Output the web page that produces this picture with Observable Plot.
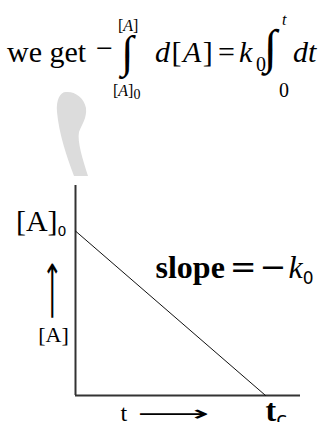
<!DOCTYPE html>
<html>
<head>
<meta charset="utf-8">
<script src="https://cdn.jsdelivr.net/npm/d3@7"></script>
<script src="https://cdn.jsdelivr.net/npm/@observablehq/plot@0.6"></script>
<style>
  html, body { margin: 0; padding: 0; background: #fff; width: 324px; height: 422px; overflow: hidden; }
  #eq { display: block; }
  #chart svg { display: block; }
</style>
</head>
<body>
<!-- Integrated rate law heading, with a faint decorative swoosh beneath it -->
<svg id="eq" width="324" height="180" font-family="'Liberation Serif', 'Times New Roman', serif" fill="#000">
  <path d="M66,92 C74,91 84,97 86,108 C87,118 82,124 79,132 C77,142 83,160 88,176 L74,176 C66,155 59,133 57,112 C56,100 60,92 66,92 Z" fill="#dcdcdc"/>
  <text x="7" y="62" font-size="30">we get</text>
  <text x="96" y="58" font-size="30">−</text>
  <text x="121" y="67" font-size="45">∫</text>
  <text x="118" y="31" font-size="16">[<tspan font-style="italic">A</tspan>]</text>
  <text x="113" y="96" font-size="16">[<tspan font-style="italic">A</tspan>]<tspan font-size="14" dy="3">0</tspan></text>
  <text x="155" y="62" font-size="30" letter-spacing="1.5"><tspan font-style="italic">d</tspan>[<tspan font-style="italic">A</tspan>]</text>
  <text x="218" y="62" font-size="30">=</text>
  <text x="239" y="62" font-size="30" font-style="italic">k</text>
  <text x="256" y="71" font-size="20">0</text>
  <text x="264" y="63" font-size="48">∫</text>
  <text x="282" y="25" font-size="16" font-style="italic">t</text>
  <text x="279" y="97" font-size="20">0</text>
  <text x="293" y="62" font-size="30" font-style="italic">dt</text>
</svg>
<div id="chart"></div>
<script>
// Zero-order kinetics: [A] falls on a straight line from [A]0 at t = 0 to zero at t = tc
const time = [0, 1];            // t = 0 and t = tc
const concentration = [1, 0];   // [A]0 and 0
const timeDomain = [0, 1.184];  // the t axis runs a little past tc
const concDomain = [0, 1.277];  // the [A] axis runs a little above [A]0
const concTickLabel = "[A]0";
const timeTickLabel = "tc";
const slopeLabel = "slope=−k0";
const concAxisLabel = "[A]";
const timeAxisLabel = "t";
const arrow = "⟶";

const decay = time.map((t, i) => ({t, a: concentration[i]}));
const start = decay.filter((d) => d.a === 1);
const end = decay.filter((d) => d.a === 0);

const serif = "'Liberation Serif', 'Times New Roman', serif";

const chart = Plot.plot({
  width: 324,
  height: 242,
  marginLeft: 75,
  marginRight: 24,
  marginTop: 5,
  marginBottom: 27,
  x: {domain: timeDomain, axis: null},
  y: {domain: concDomain, axis: null},
  style: {background: "transparent", overflow: "visible"},
  marks: [
    Plot.ruleX([0], {stroke: "#333", strokeWidth: 2}),
    Plot.ruleY([0], {stroke: "#333", strokeWidth: 2}),
    Plot.line(decay, {x: "t", y: "a", stroke: "#111", strokeWidth: 1}),
    // value labels at the two ends of the line
    Plot.text(start, {x: "t", y: "a", text: () => concTickLabel,
      textAnchor: "end", lineAnchor: "middle", dx: -9, dy: -10, fontFamily: serif, fontSize: 30}),
    Plot.text(end, {x: "t", y: "a", text: () => timeTickLabel,
      textAnchor: "start", lineAnchor: "bottom", dx: 0, dy: 25, fontFamily: serif, fontSize: 32}),
    // slope annotation
    Plot.text([slopeLabel], {frameAnchor: "top-left",
      textAnchor: "start", lineAnchor: "bottom", dx: 80, dy: 92, fontFamily: serif, fontSize: 32}),
    // axis titles with their arrows
    Plot.text([arrow], {frameAnchor: "top-left", textAnchor: "middle", lineAnchor: "middle",
      rotate: -90, dx: -23, dy: 105, fontFamily: "DejaVu Sans", fontSize: 24}),
    Plot.text([concAxisLabel], {frameAnchor: "top-left", textAnchor: "middle", lineAnchor: "middle",
      dx: -22, dy: 149, fontFamily: serif, fontSize: 22}),
    Plot.text([timeAxisLabel], {frameAnchor: "bottom-left", textAnchor: "start", lineAnchor: "bottom",
      dx: 45, dy: 25, fontFamily: serif, fontSize: 24}),
    Plot.text([arrow + " "], {frameAnchor: "bottom-left", textAnchor: "start", lineAnchor: "middle",
      dx: 62, dy: 18, fontFamily: "DejaVu Sans", fontSize: 22})
  ]
});

// Split a label into tspans so that subscripts and italics can be styled
function richText(svg, label, parts) {
  d3.select(svg).selectAll("text").filter(function () { return this.textContent === label; }).each(function () {
    const t = d3.select(this);
    t.text(null);
    for (const p of parts) {
      const s = t.append("tspan").text(p.text);
      for (const [k, v] of Object.entries(p.attr || {})) s.attr(k, v);
    }
  });
}

// Lengthen an arrow glyph along its own direction
function stretch(svg, label, factor) {
  d3.select(svg).selectAll("text").filter(function () { return this.textContent === label; }).each(function () {
    const t = d3.select(this);
    t.attr("transform", `${t.attr("transform") || ""} scale(${factor},1)`);
  });
}

richText(chart, concTickLabel, [
  {text: "[A]"},
  {text: "0", attr: {"font-family": "DejaVu Sans", "font-size": 14, dy: 5}}
]);
richText(chart, timeTickLabel, [
  {text: "t", attr: {"font-weight": "bold"}},
  {text: "c", attr: {"font-family": "DejaVu Sans", "font-size": 20, dy: 5}}
]);
richText(chart, slopeLabel, [
  {text: "slope", attr: {"font-weight": "bold"}},
  {text: "=", attr: {"font-family": "DejaVu Serif", dx: 5}},
  {text: "−", attr: {"font-family": "DejaVu Serif", dx: 3}},
  {text: "k", attr: {"font-style": "italic", dx: 2}},
  {text: "0", attr: {"font-family": "DejaVu Sans", "font-size": 17, dy: 6}}
]);
stretch(chart, arrow, 1.7);
stretch(chart, arrow + " ", 2.3);

document.getElementById("chart").append(chart);
</script>
</body>
</html>
